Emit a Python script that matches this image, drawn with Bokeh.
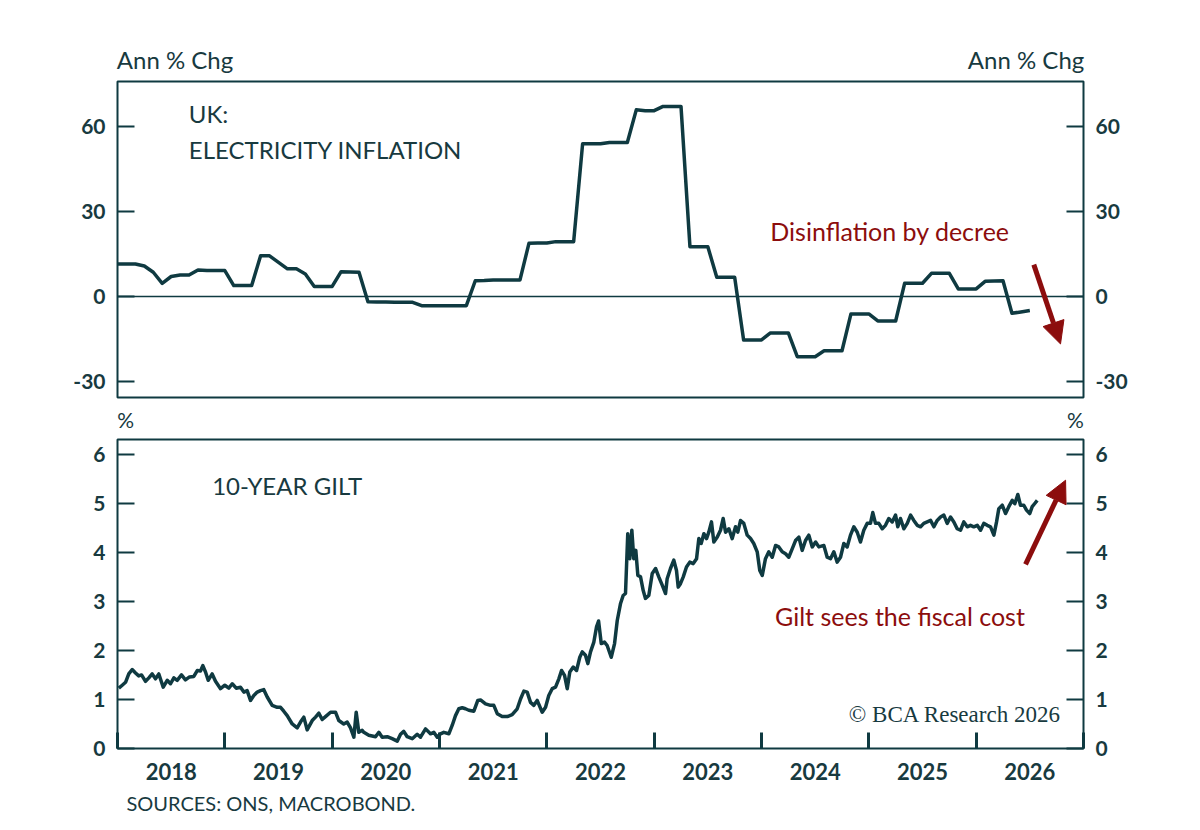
from bokeh.plotting import figure
from bokeh.models import Range1d, LinearAxis, FixedTicker, Span, Label, Arrow, NormalHead, Title
from bokeh.layouts import column
from bokeh.embed import file_html
from bokeh.resources import INLINE

# ---------------- data ----------------
elec_start_year = 2018  # monthly values from Jan 2018
elec_values = [
    11.5, 11.5, 11.5, 10.8, 8.6, 4.7, 7.1, 7.6, 7.6, 9.4, 9.2, 9.2,
    9.2, 3.9, 3.9, 3.9, 14.4, 14.4, 12.1, 9.8, 9.8, 8.0, 3.6, 3.6,
    3.6, 8.8, 8.7, 8.6, -1.8, -1.9, -1.9, -2.0, -2.0, -2.0, -3.2, -3.2,
    -3.2, -3.2, -3.2, -3.2, 5.6, 5.7, 5.9, 5.9, 5.9, 5.9, 18.8, 18.9,
    18.9, 19.4, 19.4, 19.4, 53.9, 53.9, 53.9, 54.4, 54.4, 54.4, 65.9, 65.6,
    65.6, 67.1, 67.1, 67.1, 17.6, 17.6, 17.6, 6.8, 6.8, 6.8, -15.3, -15.3,
    -15.3, -12.8, -12.8, -12.8, -21.2, -21.2, -21.2, -19.1, -19.1, -19.1, -6.1, -6.1,
    -6.1, -8.6, -8.6, -8.6, 4.7, 4.7, 4.7, 8.2, 8.2, 8.2, 2.7, 2.7,
    2.7, 5.4, 5.5, 5.6, -5.9, -5.4, -4.9,
]

gilt_t = [
    2018.012, 2018.044, 2018.075, 2018.105, 2018.137, 2018.168, 2018.198, 2018.224, 2018.261, 2018.292,
    2018.323, 2018.354, 2018.385, 2018.426, 2018.463, 2018.494, 2018.525, 2018.556, 2018.596, 2018.633,
    2018.671, 2018.711, 2018.743, 2018.773, 2018.795, 2018.820, 2018.845, 2018.882, 2018.913, 2018.960,
    2019.000, 2019.037, 2019.069, 2019.106, 2019.146, 2019.177, 2019.208, 2019.239, 2019.270, 2019.302,
    2019.332, 2019.363, 2019.395, 2019.441, 2019.488, 2019.519, 2019.549, 2019.581, 2019.628, 2019.674,
    2019.705, 2019.736, 2019.767, 2019.814, 2019.845, 2019.876, 2019.907, 2019.938, 2019.985, 2020.031,
    2020.062, 2020.108, 2020.140, 2020.171, 2020.202, 2020.224, 2020.248, 2020.280, 2020.295, 2020.341,
    2020.404, 2020.435, 2020.466, 2020.513, 2020.559, 2020.606, 2020.637, 2020.667, 2020.699, 2020.746,
    2020.792, 2020.823, 2020.870, 2020.916, 2020.947, 2020.979, 2021.009, 2021.040, 2021.087, 2021.118,
    2021.149, 2021.180, 2021.212, 2021.242, 2021.273, 2021.320, 2021.357, 2021.382, 2021.429, 2021.475,
    2021.506, 2021.538, 2021.584, 2021.631, 2021.677, 2021.724, 2021.755, 2021.786, 2021.817, 2021.848,
    2021.879, 2021.910, 2021.957, 2021.988, 2022.018, 2022.050, 2022.081, 2022.112, 2022.137, 2022.165,
    2022.190, 2022.214, 2022.246, 2022.277, 2022.307, 2022.330, 2022.360, 2022.382, 2022.407, 2022.438,
    2022.463, 2022.482, 2022.507, 2022.537, 2022.562, 2022.600, 2022.631, 2022.656, 2022.686, 2022.711,
    2022.733, 2022.754, 2022.773, 2022.792, 2022.810, 2022.829, 2022.848, 2022.873, 2022.898, 2022.919,
    2022.950, 2022.982, 2023.013, 2023.043, 2023.075, 2023.106, 2023.121, 2023.152, 2023.183, 2023.208,
    2023.224, 2023.245, 2023.271, 2023.301, 2023.332, 2023.364, 2023.395, 2023.416, 2023.438, 2023.463,
    2023.488, 2023.509, 2023.534, 2023.556, 2023.588, 2023.618, 2023.643, 2023.665, 2023.696, 2023.727,
    2023.758, 2023.779, 2023.805, 2023.835, 2023.867, 2023.898, 2023.928, 2023.960, 2023.984, 2024.007,
    2024.037, 2024.068, 2024.100, 2024.131, 2024.161, 2024.193, 2024.224, 2024.254, 2024.286, 2024.317,
    2024.348, 2024.379, 2024.410, 2024.441, 2024.473, 2024.504, 2024.534, 2024.581, 2024.612, 2024.643,
    2024.674, 2024.705, 2024.736, 2024.767, 2024.798, 2024.829, 2024.860, 2024.892, 2024.922, 2024.953,
    2024.985, 2025.015, 2025.037, 2025.062, 2025.093, 2025.125, 2025.155, 2025.186, 2025.218, 2025.249,
    2025.270, 2025.295, 2025.326, 2025.358, 2025.389, 2025.419, 2025.451, 2025.482, 2025.512, 2025.544,
    2025.575, 2025.606, 2025.637, 2025.668, 2025.699, 2025.730, 2025.761, 2025.792, 2025.823, 2025.854,
    2025.885, 2025.917, 2025.947, 2025.978, 2026.010, 2026.041, 2026.071, 2026.103, 2026.134, 2026.165,
    2026.190, 2026.211, 2026.243, 2026.274, 2026.304, 2026.336, 2026.360, 2026.388, 2026.413, 2026.444,
    2026.469, 2026.499, 2026.522, 2026.544, 2026.569,
]
gilt_v = [
    1.23, 1.29, 1.35, 1.52, 1.61, 1.54, 1.48, 1.50, 1.37, 1.44,
    1.52, 1.42, 1.52, 1.25, 1.39, 1.32, 1.44, 1.39, 1.50, 1.40,
    1.46, 1.47, 1.59, 1.58, 1.69, 1.56, 1.39, 1.52, 1.37, 1.22,
    1.29, 1.23, 1.32, 1.23, 1.25, 1.15, 1.18, 0.98, 1.08, 1.15,
    1.18, 1.20, 1.05, 0.88, 0.84, 0.84, 0.76, 0.67, 0.50, 0.42,
    0.54, 0.64, 0.38, 0.57, 0.64, 0.72, 0.59, 0.65, 0.74, 0.74,
    0.57, 0.50, 0.54, 0.42, 0.23, 0.74, 0.33, 0.37, 0.33, 0.27,
    0.24, 0.33, 0.23, 0.24, 0.20, 0.15, 0.29, 0.35, 0.24, 0.20,
    0.29, 0.23, 0.40, 0.30, 0.33, 0.23, 0.30, 0.33, 0.30, 0.47,
    0.67, 0.81, 0.83, 0.81, 0.78, 0.76, 0.98, 0.99, 0.91, 0.88,
    0.88, 0.71, 0.65, 0.65, 0.69, 0.81, 1.01, 1.17, 1.15, 0.94,
    0.88, 0.98, 0.74, 0.84, 1.08, 1.22, 1.25, 1.42, 1.59, 1.49,
    1.22, 1.56, 1.66, 1.59, 1.86, 1.97, 1.90, 1.73, 1.97, 2.17,
    2.48, 2.60, 2.14, 2.17, 2.10, 1.86, 2.14, 2.61, 2.95, 3.12,
    3.16, 4.38, 3.87, 4.45, 3.87, 4.04, 3.53, 3.50, 3.22, 3.06,
    3.12, 3.57, 3.67, 3.50, 3.33, 3.16, 3.46, 3.67, 3.84, 3.63,
    3.29, 3.36, 3.50, 3.70, 3.80, 3.77, 3.87, 4.28, 4.18, 4.38,
    4.28, 4.41, 4.62, 4.21, 4.31, 4.45, 4.69, 4.41, 4.48, 4.28,
    4.52, 4.41, 4.65, 4.59, 4.35, 4.28, 4.18, 4.01, 3.63, 3.53,
    3.87, 4.01, 3.90, 4.14, 4.11, 4.01, 3.97, 3.90, 4.07, 4.24,
    4.31, 4.04, 4.24, 4.35, 4.11, 4.21, 4.11, 4.14, 3.90, 3.87,
    4.01, 3.80, 3.90, 4.18, 4.11, 4.35, 4.52, 4.41, 4.21, 4.45,
    4.59, 4.59, 4.81, 4.59, 4.59, 4.48, 4.55, 4.69, 4.62, 4.76,
    4.52, 4.69, 4.48, 4.59, 4.76, 4.65, 4.55, 4.52, 4.59, 4.62,
    4.65, 4.52, 4.65, 4.72, 4.76, 4.59, 4.72, 4.62, 4.48, 4.45,
    4.62, 4.52, 4.55, 4.52, 4.55, 4.45, 4.59, 4.55, 4.52, 4.35,
    4.62, 4.89, 4.96, 4.79, 4.93, 5.06, 4.99, 5.18, 4.96, 4.96,
    4.86, 4.79, 4.93, 4.99, 5.06,
]

year_ticks = [2018, 2019, 2020, 2021, 2022, 2023, 2024, 2025, 2026, 2027]
year_labels = ["2018", "2019", "2020", "2021", "2022", "2023", "2024", "2025", "2026"]
top_yticks = [-30, 0, 30, 60]
top_ylabels = {-30: "-30", 0: "0", 30: "30", 60: "60"}
bot_yticks = [0, 1, 2, 3, 4, 5, 6]

# ---------------- style ----------------
LINE = "#0f3a41"
TEXT = "#183a3f"
RED = "#8c0d0d"
FONT = "Lato"

elec_t = [elec_start_year + i / 12 for i in range(len(elec_values))]
label_pos = [y + 0.5 for y in year_ticks[:-1]]


def style_y(ax, ticks, overrides=None):
    ax.ticker = FixedTicker(ticks=ticks)
    if overrides:
        ax.major_label_overrides = overrides
    ax.axis_line_color = None
    ax.major_tick_in = 17
    ax.major_tick_out = 0
    ax.minor_tick_in = 0
    ax.minor_tick_out = 0
    ax.major_tick_line_color = LINE
    ax.major_tick_line_width = 2
    ax.major_label_text_font = FONT
    ax.major_label_text_font_size = "21px"
    ax.major_label_text_font_style = "bold"
    ax.major_label_text_color = TEXT
    ax.major_label_standoff = 12


def header_axis(p, centers, text, size, standoff):
    ax = LinearAxis()
    ax.ticker = FixedTicker(ticks=centers)
    ax.major_label_overrides = {c: text for c in centers}
    ax.axis_line_color = None
    ax.major_tick_in = 0
    ax.major_tick_out = 0
    ax.minor_tick_in = 0
    ax.minor_tick_out = 0
    ax.major_label_text_font = FONT
    ax.major_label_text_font_size = size
    ax.major_label_text_color = TEXT
    ax.major_label_standoff = standoff
    p.add_layout(ax, "above")


def base_fig(height, border_top, border_bottom, frame_h, yr):
    p = figure(width=1184, height=height, output_backend="svg", toolbar_location=None,
               x_range=Range1d(year_ticks[0], year_ticks[-1]), y_range=yr,
               x_axis_location=None, y_axis_location="left",
               frame_width=966, frame_height=frame_h,
               min_border_left=117, min_border_right=101,
               min_border_top=border_top, min_border_bottom=border_bottom)
    p.outline_line_color = LINE
    p.outline_line_width = 2
    p.xgrid.visible = False
    p.ygrid.visible = False
    p.background_fill_color = "white"
    p.border_fill_color = "white"
    return p


def add_label(p, x, y, text, size, color=TEXT, align="left", font=FONT, style="normal"):
    p.add_layout(Label(x=x, y=y, text=text, text_font=font, text_font_size=size,
                       text_color=color, text_align=align, text_baseline="middle",
                       text_font_style=style))


# ---------------- top panel ----------------
p1 = base_fig(402, 81, 5, 316, Range1d(-35.6, 75.9))
style_y(p1.yaxis[0], top_yticks, top_ylabels)
r1 = LinearAxis()
style_y(r1, top_yticks, top_ylabels)
p1.add_layout(r1, "right")
header_axis(p1, [2018.536, 2026.465], "Ann % Chg", "24px", 8)
p1.add_layout(Span(location=0, dimension="width", line_color=LINE, line_width=1.5))
p1.line(elec_t, elec_values, line_color=LINE, line_width=3.5, line_join="round")

add_label(p1, 2018.664, 64.6, "UK:", "24px")
add_label(p1, 2018.664, 51.9, "ELECTRICITY INFLATION", "24px")
add_label(p1, 2025.197, 23.3, "Disinflation by decree", "25px", color=RED, align="center")
p1.add_layout(Arrow(end=NormalHead(size=22, fill_color=RED, line_color=RED),
                    x_start=2026.537, y_start=11.3, x_end=2026.786, y_end=-16.7,
                    line_color=RED, line_width=5))

# ---------------- bottom panel ----------------
p2 = base_fig(420, 37, 74, 309, Range1d(0, 6.3))
style_y(p2.yaxis[0], bot_yticks)
r2 = LinearAxis()
style_y(r2, bot_yticks)
p2.add_layout(r2, "right")
header_axis(p2, [2018.075, 2026.925], "%", "21px", 8)

xb = LinearAxis()
xb.ticker = FixedTicker(ticks=label_pos, minor_ticks=year_ticks)
xb.major_label_overrides = {pos: lab for pos, lab in zip(label_pos, year_labels)}
xb.axis_line_color = None
xb.major_tick_in = 0
xb.major_tick_out = 0
xb.minor_tick_in = 16
xb.minor_tick_out = 0
xb.minor_tick_line_color = LINE
xb.minor_tick_line_width = 3
xb.major_label_text_font = FONT
xb.major_label_text_font_size = "22px"
xb.major_label_text_font_style = "bold"
xb.major_label_text_color = TEXT
xb.major_label_standoff = 14
p2.add_layout(xb, "below")

p2.add_layout(Title(text="SOURCES: ONS, MACROBOND.", align="left", offset=9,
                    text_font=FONT, text_font_size="20px", text_font_style="normal",
                    text_color=TEXT, standoff=13), "below")

p2.line(gilt_t, gilt_v, line_color=LINE, line_width=3.5, line_join="round")

add_label(p2, 2018.882, 5.367, "10-YEAR GILT", "24px")
add_label(p2, 2025.29, 2.694, "Gilt sees the fiscal cost", "25px", color=RED, align="center")
add_label(p2, 2025.803, 0.694, "© BCA Research 2026", "23px", font="Liberation Serif", align="center")
p2.add_layout(Arrow(end=NormalHead(size=22, fill_color=RED, line_color=RED),
                    x_start=2026.46, y_start=3.755, x_end=2026.833, y_end=5.47,
                    line_color=RED, line_width=5))

layout = column(p1, p2, spacing=0)
open("out.html", "w").write(file_html(layout, INLINE))
